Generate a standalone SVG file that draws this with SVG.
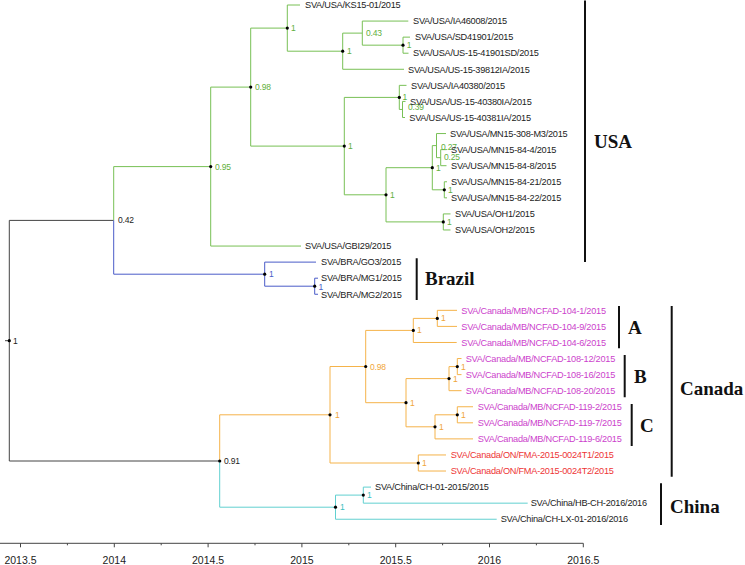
<svg xmlns="http://www.w3.org/2000/svg" width="745" height="565" viewBox="0 0 745 565">
<style>
.e{fill:none;stroke-width:1}
.k{stroke:#444}.g{stroke:#78c055}.b{stroke:#4a5cc8}.o{stroke:#f5b34a}.c{stroke:#62d0d0}
.t{font-family:"Liberation Sans",Arial,sans-serif;font-size:9.2px;letter-spacing:-0.25px;fill:#222}
.m{fill:#cc3fcc}.r{fill:#ee3535}
.s{font-family:"Liberation Sans",Arial,sans-serif;font-size:8.5px;letter-spacing:-0.2px}
.sk{fill:#222}.sg{fill:#5fb040}.sb{fill:#4a5cc8}.so{fill:#f0a63a}.sc{fill:#3cc0c0}
.d{fill:#000}
.cl{font-family:"Liberation Serif","Times New Roman",serif;font-weight:bold;font-size:19px;fill:#111}
.bar{stroke:#111;stroke-width:2;fill:none}
.ax{stroke:#444;stroke-width:1;fill:none}
.at{font-family:"Liberation Sans",Arial,sans-serif;font-size:10.5px;fill:#222;text-anchor:middle}
</style>
<g id="connectors">
<path class="e k" d="M5,340.7H9.3M9.3,220.4V461M9.3,220.4H113.7M9.3,461H219.7"/>
<path class="e g" d="M113.7,220.4V166.6H210.7M210.7,87.1V246.05M210.7,87.1H250.7M210.7,246.05H301M250.7,28.1V146.1M250.7,28.1H287.3M250.7,146.1H344.3M287.3,5V51.2M287.3,5H300M287.3,51.2H342.7M342.7,33.12V69.28M342.7,33.12H362.3M342.7,69.28H404M362.3,21.07V45.17M362.3,21.07H408.3M362.3,45.17H403M403,37.14V53.21M403,37.14H410M403,53.21H408.5M344.3,97.4V194.8M344.3,97.4H399.3M344.3,194.8H386M399.3,85.35V109.45M399.3,85.35H406.5M399.3,109.45H402.5M402.5,101.42V117.49M402.5,101.42H405.5M402.5,117.49H405M386,167.7V221.9M386,167.7H432.3M386,221.9H443.3M432.3,145.6V189.8M432.3,145.6H436.5M432.3,189.8H444.3M436.5,133.56V157.67M436.5,133.56H446M436.5,157.67H440.7M440.7,149.63V165.7M440.7,149.63H446.5M440.7,165.7H446.5M444.3,181.77V197.84M444.3,181.77H447M444.3,197.84H447M443.3,213.91V229.98M443.3,213.91H450.5M443.3,229.98H450.5"/>
<path class="e b" d="M113.7,220.4V274.2H264.7M264.7,262.12V286.2M264.7,262.12H316M264.7,286.2H314.7M314.7,278.19V294.26M314.7,278.19H318M314.7,294.26H318"/>
<path class="e o" d="M219.7,461V414.8H330M330,366.5V463M330,366.5H365.7M330,463H418.3M365.7,330.4V402.7M365.7,330.4H413.3M365.7,402.7H406M413.3,318.4V342.47M413.3,318.4H437.3M413.3,342.47H456.7M437.3,310.33V326.4M437.3,310.33H457M437.3,326.4H457M406,378.6V426.8M406,378.6H449M406,426.8H435M449,366.6V390.68M449,366.6H457.3M449,390.68H461.5M457.3,358.54V374.61M457.3,358.54H461.5M457.3,374.61H461.5M435,414.8V438.89M435,414.8H457.3M435,438.89H473M457.3,406.75V422.82M457.3,406.75H473M457.3,422.82H473M418.3,454.96V471.03M418.3,454.96H446M418.3,471.03H446"/>
<path class="e c" d="M219.7,461V507.2H335.5M335.5,495.1V519.24M335.5,495.1H363.3M335.5,519.24H496.7M363.3,487.1V503.17M363.3,487.1H371M363.3,503.17H527.7"/>
</g>
<g id="n-root"><circle class="d" cx="9.3" cy="340.7" r="1.6"/><text class="s sk" x="13" y="343.7">1</text></g>
<g id="n-042"><text class="s sk" x="118" y="223.4">0.42</text></g>
<g id="n-095"><circle class="d" cx="210.7" cy="166.6" r="1.6"/><text class="s sg" x="215" y="169.6">0.95</text></g>
<g id="n-098"><circle class="d" cx="250.7" cy="87.1" r="1.6"/><text class="s sg" x="255" y="90.1">0.98</text></g>
<g id="n-ks"><circle class="d" cx="287.3" cy="28.1" r="1.6"/><text class="s sg" x="291" y="31.1">1</text></g>
<g id="n-1a"><circle class="d" cx="342.7" cy="51.2" r="1.6"/><text class="s sg" x="347" y="54.2">1</text></g>
<g id="n-043"><text class="s sg" x="366" y="36.1">0.43</text></g>
<g id="n-sd"><circle class="d" cx="403" cy="45.17" r="1.6"/><text class="s sg" x="406.7" y="48.2">1</text></g>
<g id="n-usa2"><circle class="d" cx="344.3" cy="146.1" r="1.6"/><text class="s sg" x="348" y="149.1">1</text></g>
<g id="n-ia"><circle class="d" cx="399.3" cy="97.4" r="1.6"/><text class="s sg" x="402.5" y="100.4">1</text></g>
<g id="n-039"><text class="s sg" x="408" y="110.3">0.39</text></g>
<g id="n-mnoh"><circle class="d" cx="386" cy="194.8" r="1.6"/><text class="s sg" x="390" y="197.8">1</text></g>
<g id="n-mn"><circle class="d" cx="432.3" cy="167.7" r="1.6"/><text class="s sg" x="436" y="170.7">1</text></g>
<g id="n-027"><text class="s sg" x="441" y="149.6">0.27</text></g>
<g id="n-025"><text class="s sg" x="444" y="160">0.25</text></g>
<g id="n-2122"><circle class="d" cx="444.3" cy="189.8" r="1.6"/><text class="s sg" x="448" y="192.8">1</text></g>
<g id="n-oh"><circle class="d" cx="443.3" cy="221.9" r="1.6"/><text class="s sg" x="447" y="224.9">1</text></g>
<g id="n-bra"><circle class="d" cx="264.7" cy="274.2" r="1.6"/><text class="s sb" x="269" y="277.2">1</text></g>
<g id="n-mg"><circle class="d" cx="314.7" cy="286.2" r="1.6"/><text class="s sb" x="318.5" y="289.5">1</text></g>
<g id="n-091"><circle class="d" cx="219.7" cy="461" r="1.6"/><text class="s sk" x="224" y="464">0.91</text></g>
<g id="n-can"><circle class="d" cx="330" cy="414.8" r="1.6"/><text class="s so" x="335" y="417.8">1</text></g>
<g id="n-098c"><circle class="d" cx="365.7" cy="366.5" r="1.6"/><text class="s so" x="370" y="369.5">0.98</text></g>
<g id="n-a"><circle class="d" cx="413.3" cy="330.4" r="1.6"/><text class="s so" x="417" y="333.4">1</text></g>
<g id="n-a1"><circle class="d" cx="437.3" cy="318.4" r="1.6"/><text class="s so" x="441" y="321.4">1</text></g>
<g id="n-bc"><circle class="d" cx="406" cy="402.7" r="1.6"/><text class="s so" x="410" y="405.7">1</text></g>
<g id="n-b"><circle class="d" cx="449" cy="378.6" r="1.6"/><text class="s so" x="453" y="381.6">1</text></g>
<g id="n-b1"><circle class="d" cx="457.3" cy="366.6" r="1.6"/><text class="s so" x="461" y="369.6">1</text></g>
<g id="n-c"><circle class="d" cx="435" cy="426.8" r="1.6"/><text class="s so" x="439" y="429.8">1</text></g>
<g id="n-c1"><circle class="d" cx="457.3" cy="414.8" r="1.6"/><text class="s so" x="461" y="417.8">1</text></g>
<g id="n-on"><circle class="d" cx="418.3" cy="463" r="1.6"/><text class="s so" x="422" y="466">1</text></g>
<g id="n-ch"><circle class="d" cx="335.5" cy="507.2" r="1.6"/><text class="s sc" x="340" y="510.2">1</text></g>
<g id="n-ch1"><circle class="d" cx="363.3" cy="495.1" r="1.6"/><text class="s sc" x="367" y="498.1">1</text></g>
<g id="leaves">
<g id="l0"><text class="t" x="305" y="8.2">SVA/USA/KS15-01/2015</text></g>
<g id="l1"><text class="t" x="413" y="24.3">SVA/USA/IA46008/2015</text></g>
<g id="l2"><text class="t" x="415" y="40.3">SVA/USA/SD41901/2015</text></g>
<g id="l3"><text class="t" x="413" y="56.4">SVA/USA/US-15-41901SD/2015</text></g>
<g id="l4"><text class="t" x="408" y="72.5">SVA/USA/US-15-39812IA/2015</text></g>
<g id="l5"><text class="t" x="411" y="88.5">SVA/USA/IA40380/2015</text></g>
<g id="l6"><text class="t" x="410" y="104.6">SVA/USA/US-15-40380IA/2015</text></g>
<g id="l7"><text class="t" x="409.3" y="120.7">SVA/USA/US-15-40381IA/2015</text></g>
<g id="l8"><text class="t" x="450" y="136.8">SVA/USA/MN15-308-M3/2015</text></g>
<g id="l9"><text class="t" x="451" y="152.8">SVA/USA/MN15-84-4/2015</text></g>
<g id="l10"><text class="t" x="451" y="168.9">SVA/USA/MN15-84-8/2015</text></g>
<g id="l11"><text class="t" x="451" y="185">SVA/USA/MN15-84-21/2015</text></g>
<g id="l12"><text class="t" x="451" y="201">SVA/USA/MN15-84-22/2015</text></g>
<g id="l13"><text class="t" x="455" y="217.1">SVA/USA/OH1/2015</text></g>
<g id="l14"><text class="t" x="455" y="233.2">SVA/USA/OH2/2015</text></g>
<g id="l15"><text class="t" x="305" y="249.3">SVA/USA/GBI29/2015</text></g>
<g id="l16"><text class="t" x="321" y="265.3">SVA/BRA/GO3/2015</text></g>
<g id="l17"><text class="t" x="321" y="281.4">SVA/BRA/MG1/2015</text></g>
<g id="l18"><text class="t" x="321" y="297.5">SVA/BRA/MG2/2015</text></g>
<g id="l19"><text class="t m" x="461.3" y="313.5">SVA/Canada/MB/NCFAD-104-1/2015</text></g>
<g id="l20"><text class="t m" x="461.3" y="329.6">SVA/Canada/MB/NCFAD-104-9/2015</text></g>
<g id="l21"><text class="t m" x="461.3" y="345.7">SVA/Canada/MB/NCFAD-104-6/2015</text></g>
<g id="l22"><text class="t m" x="465.7" y="361.7">SVA/Canada/MB/NCFAD-108-12/2015</text></g>
<g id="l23"><text class="t m" x="465.7" y="377.8">SVA/Canada/MB/NCFAD-108-16/2015</text></g>
<g id="l24"><text class="t m" x="465.7" y="393.9">SVA/Canada/MB/NCFAD-108-20/2015</text></g>
<g id="l25"><text class="t m" x="477.7" y="410">SVA/Canada/MB/NCFAD-119-2/2015</text></g>
<g id="l26"><text class="t m" x="477.7" y="426">SVA/Canada/MB/NCFAD-119-7/2015</text></g>
<g id="l27"><text class="t m" x="477.7" y="442.1">SVA/Canada/MB/NCFAD-119-6/2015</text></g>
<g id="l28"><text class="t r" x="450.7" y="458.2">SVA/Canada/ON/FMA-2015-0024T1/2015</text></g>
<g id="l29"><text class="t r" x="450.7" y="474.2">SVA/Canada/ON/FMA-2015-0024T2/2015</text></g>
<g id="l30"><text class="t" x="375" y="490.3">SVA/China/CH-01-2015/2015</text></g>
<g id="l31"><text class="t" x="530.7" y="506.4">SVA/China/HB-CH-2016/2016</text></g>
<g id="l32"><text class="t" x="500.7" y="522.4">SVA/China/CH-LX-01-2016/2016</text></g>
</g>
<g id="clades">
<path class="bar" d="M585,0.5V262M416.7,258.3V300M619,306V348.3M624.7,355V397.3M631.7,404V446M671.7,306V476.7M661,483.3V525"/>
<text class="cl" x="594" y="148">USA</text>
<text class="cl" x="425" y="285">Brazil</text>
<text class="cl" x="628" y="334">A</text>
<text class="cl" x="634" y="383">B</text>
<text class="cl" x="640" y="431.7">C</text>
<text class="cl" x="680" y="395">Canada</text>
<text class="cl" x="670" y="513">China</text>
</g>
<g id="axis">
<path class="ax" d="M0,543.3H583.3M20.5,543.3v4M114.3,543.3v4M208.1,543.3v4M301.9,543.3v4M395.7,543.3v4M489.5,543.3v4M583.3,543.3v4M67.4,543.3v2M161.2,543.3v2M255,543.3v2M348.8,543.3v2M442.6,543.3v2M536.4,543.3v2"/>
<text class="at" x="20.5" y="563.5">2013.5</text>
<text class="at" x="114.3" y="563.5">2014</text>
<text class="at" x="208.1" y="563.5">2014.5</text>
<text class="at" x="301.9" y="563.5">2015</text>
<text class="at" x="395.7" y="563.5">2015.5</text>
<text class="at" x="489.5" y="563.5">2016</text>
<text class="at" x="583.3" y="563.5">2016.5</text>
</g>
</svg>
